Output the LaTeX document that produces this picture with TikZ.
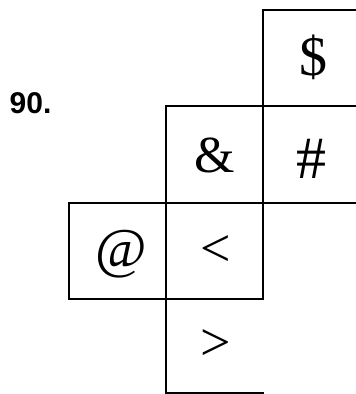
\documentclass[tikz,border=0pt]{standalone}
\usepackage{fontspec}
\setmainfont{Liberation Serif}
\newfontfamily\labelfont{Liberation Sans}
\begin{document}
\begin{tikzpicture}[x=1pt,y=-1pt,
  gridline/.style={line width=2.3pt, line cap=rect},
  sym/.style={font=\fontsize{52}{52}\selectfont, inner sep=0pt}]
\useasboundingbox (0,0) rectangle (356,394);
% grid lines
\draw[gridline] (263,10) -- (358,10);
\draw[gridline] (263,10) -- (263,299);
\draw[gridline] (166,106) -- (358,106);
\draw[gridline] (69,203) -- (358,203);
\draw[gridline] (69,299) -- (263,299);
\draw[gridline] (166,106) -- (166,393);
\draw[gridline] (69,203) -- (69,299);
\draw[gridline] (166,393) -- (263,393);
% labels
\node[font=\labelfont\bfseries\fontsize{30}{30}\selectfont, inner sep=0pt] (num) at (30.5,103) {90.};
\node[sym, font=\fontsize{56}{56}\selectfont] (dollar) at (313.5,57.5) {\$};
\node[sym] (amp) at (215,155) {\&};
\node[sym, font=\fontsize{60}{60}\selectfont] (hash) at (311.5,159) {\#};
\node[sym, font=\fontsize{56}{56}\selectfont] (at) at (121.5,254) {@};
\node[sym, font=\fontsize{54}{54}\selectfont] (lt) at (216,251) {<};
\node[sym, font=\fontsize{54}{54}\selectfont] (gt) at (216,345) {>};
\end{tikzpicture}
\end{document}
